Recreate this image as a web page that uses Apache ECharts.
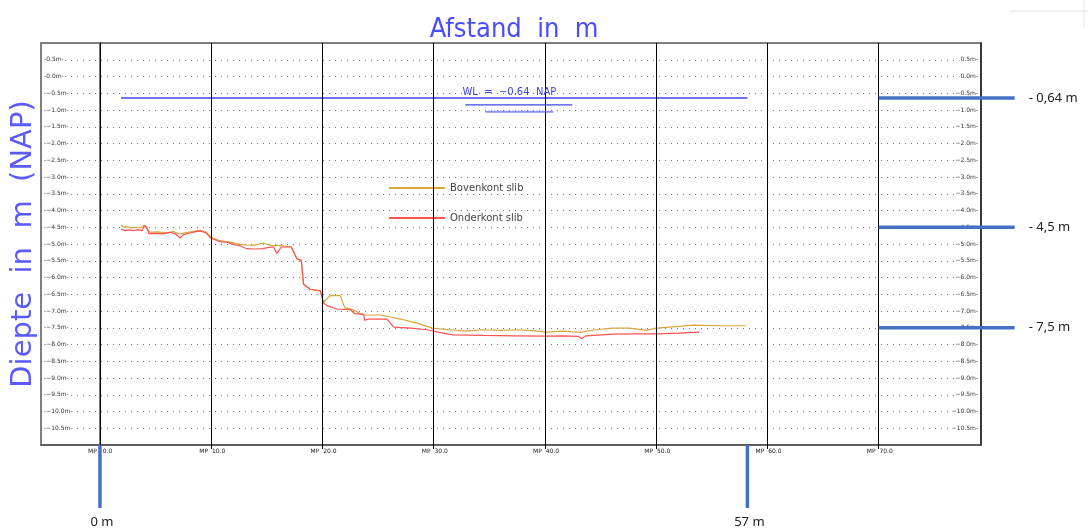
<!DOCTYPE html>
<html><head><meta charset="utf-8">
<script src="https://cdn.jsdelivr.net/npm/echarts@6/dist/echarts.min.js"></script>
<style>html,body{margin:0;padding:0;background:#fff}#c{width:1088px;height:529px}</style>
</head><body><div id="c"></div>
<script>
// ---- data ----
const bovenX = [1.9,2.1,2.4,2.8,3.3,3.7,3.9,4.1,4.5,5.2,6.0,6.6,7.2,7.8,8.4,9.0,9.5,10.0,10.6,11.1,11.8,12.6,13.2,13.8,14.3,14.7,15.2,15.6,16.2,16.5,17.2,17.7,18.1,18.3,18.9,19.8,20.1,20.7,21.6,22.0,22.7,23.7,25.2,26.1,27.0,28.5,29.9,31.4,32.9,34.4,36.0,37.4,38.6,40.1,41.6,43.1,44.6,46.1,47.6,49.1,50.0,52.1,53.3,56.0,58.1];
const bovenY = [-4.42,-4.50,-4.48,-4.52,-4.50,-4.52,-4.45,-4.50,-4.65,-4.64,-4.67,-4.63,-4.70,-4.66,-4.62,-4.59,-4.64,-4.80,-4.88,-4.91,-4.95,-5.01,-5.03,-5.04,-5.00,-4.97,-5.03,-5.05,-5.04,-5.06,-5.09,-5.44,-5.49,-6.20,-6.35,-6.40,-6.74,-6.54,-6.54,-6.90,-6.96,-7.12,-7.12,-7.18,-7.24,-7.36,-7.51,-7.56,-7.60,-7.56,-7.58,-7.56,-7.58,-7.63,-7.60,-7.64,-7.56,-7.51,-7.51,-7.58,-7.51,-7.46,-7.42,-7.44,-7.44];
const onderX = [1.9,2.2,2.6,3.0,3.4,3.8,4.0,4.2,4.4,5.0,5.7,6.3,6.8,7.2,7.5,8.0,8.5,9.0,9.5,10.0,10.8,11.5,12.0,12.6,13.2,14.0,14.6,15.2,15.6,15.9,16.3,17.2,17.7,18.1,18.3,18.9,19.8,20.1,20.4,21.3,22.5,22.9,23.7,23.8,24.1,25.8,26.4,27.9,29.4,30.5,31.7,34.4,37.4,40.1,41.6,43.0,43.3,43.7,46.1,48.0,50.0,52.0,53.9];
const onderY = [-4.55,-4.60,-4.58,-4.60,-4.57,-4.60,-4.45,-4.50,-4.69,-4.68,-4.70,-4.65,-4.70,-4.82,-4.72,-4.68,-4.64,-4.61,-4.66,-4.83,-4.93,-4.95,-5.02,-5.05,-5.14,-5.15,-5.14,-5.10,-5.09,-5.28,-5.09,-5.09,-5.44,-5.49,-6.20,-6.35,-6.40,-6.76,-6.84,-6.94,-6.96,-7.08,-7.10,-7.28,-7.24,-7.24,-7.48,-7.51,-7.56,-7.64,-7.71,-7.73,-7.74,-7.75,-7.74,-7.76,-7.82,-7.74,-7.69,-7.68,-7.68,-7.66,-7.63];
const gridX = [0,10,20,30,40,50,60,70];
const wlX = [1.9, 58.2];
const wlLevel = -0.64;
const wlText = 'WL  =  −0.64  NAP';
const wlTextX = 36.8;
const rightMarks = [-0.64, -4.5, -7.5];
const rightLabels = ['- 0,64 m', '- 4,5 m', '- 7,5 m'];
const bottomMarks = [0, 58.2];
const bottomLabels = ['0 m', '57 m'];
const seriesNames = ['Bovenkont slib', 'Onderkont slib'];
const yName = 'Diepte  in  m  (NAP)';

// ---- chart ----
const zip = (xs, ys) => xs.map((x, i) => [x, ys[i]]);
const chart = echarts.init(document.getElementById('c'));
const isEdge = v => Math.abs(v - 1) < 1e-6 || Math.abs(v + 11) < 1e-6;
const num = v => (v < -1e-9 ? '−' : '') + Math.abs(v).toFixed(1);
const lblStyle = {fontSize: 6, color: '#333', fontFamily: 'DejaVu Sans', backgroundColor: '#fff', padding: [0, 1]};
const thinFont = 'DejaVu Sans Condensed, Liberation Sans Narrow, DejaVu Sans';

chart.setOption({
  animation: false,
  grid: {left: 41, top: 43, right: 107, bottom: 84, show: true, borderColor: '#555', borderWidth: 1.5,
    containLabel: false, outerBoundsMode: 'none'},
  title: {text: 'Afstand  in  m', left: 509, top: 11, textAlign: 'center',
    textStyle: {color: '#4a4aff', fontSize: 27, fontWeight: 'normal', fontFamily: thinFont}},
  legend: {data: seriesNames, orient: 'vertical', left: 384, top: 178, itemWidth: 56, itemHeight: 2, icon: 'rect', itemGap: 20,
    textStyle: {fontSize: 10, color: '#444', fontFamily: 'DejaVu Sans'}},
  xAxis: {type: 'value', min: -5.3, max: 79.2,
    axisLine: {show: true, onZero: false, lineStyle: {color: '#555', width: 1.5}},
    axisTick: {show: true, customValues: gridX, length: 4, lineStyle: {color: '#000'}},
    splitLine: {show: false},
    axisLabel: {customValues: gridX, margin: 3, fontSize: 6, color: '#222', fontFamily: 'DejaVu Sans',
      formatter: v => '{a|MP}{b|' + v.toFixed(1) + '}',
      rich: {a: {width: 13, align: 'right', padding: [0, 2, 0, 0], fontSize: 6}, b: {width: 13, align: 'left', fontSize: 6}}}},
  yAxis: [
    {type: 'value', min: -11, max: 1, interval: 0.5,
      axisLine: {show: true, lineStyle: {color: '#555', width: 1.5}}, axisTick: {show: false},
      splitLine: {show: true, lineStyle: {color: '#777', type: [1, 5], width: 1}},
      axisLabel: Object.assign({inside: true, margin: 2, formatter: v => isEdge(v) ? '' : '-' + num(v) + 'm-'}, lblStyle)},
    {type: 'value', min: -11, max: 1, interval: 0.5, position: 'right',
      axisLine: {show: true, lineStyle: {color: '#222', width: 1.5}}, axisTick: {show: false}, splitLine: {show: false},
      axisLabel: Object.assign({inside: true, margin: 2, formatter: v => isEdge(v) ? '' : num(v) + 'm-'}, lblStyle)}
  ],
  series: [
    {name: 'WL', type: 'line', data: zip(wlX, wlX.map(() => wlLevel)), showSymbol: false, silent: true,
      lineStyle: {color: '#3c46e6', width: 1.5},
      markLine: {silent: true, symbol: 'none', label: {show: false}, lineStyle: {color: '#000', width: 1, type: 'solid'},
        data: gridX.map(x => ({xAxis: x}))}},
    {name: seriesNames[0], type: 'line', data: zip(bovenX, bovenY), showSymbol: false, color: '#d9a63c',
      lineStyle: {color: '#d9a63c', width: 1.2}},
    {name: seriesNames[1], type: 'line', data: zip(onderX, onderY), showSymbol: false, color: '#ff5252',
      lineStyle: {color: '#ff5252', width: 1.2}}
  ]
});

const px = (x, y) => chart.convertToPixel({xAxisIndex: 0, yAxisIndex: 0}, [x, y]);
const g = [];
const yMid = px(0, -5)[1];
g.push({type: 'text', x: 23, y: yMid, rotation: Math.PI / 2,
  style: {text: yName, fill: '#5a5aff', fontSize: 29, fontFamily: 'DejaVu Sans', align: 'center', verticalAlign: 'middle'}});
const wlp = px(wlTextX, wlLevel);
g.push({type: 'text', z: 100, x: wlp[0], y: wlp[1] - 6, style: {text: wlText, fill: '#3c46e6', fontSize: 10, fontFamily: 'DejaVu Sans', align: 'center', verticalAlign: 'middle'}});
g.push({type: 'line', z: 100, shape: {x1: wlp[0] - 44, y1: wlp[1] + 7, x2: wlp[0] + 63, y2: wlp[1] + 7}, style: {stroke: '#3c46e6', lineWidth: 1.3}});
g.push({type: 'line', z: 100, shape: {x1: wlp[0] - 24, y1: wlp[1] + 14, x2: wlp[0] + 44, y2: wlp[1] + 14}, style: {stroke: '#3c46e6', lineWidth: 1}});
g.push({type: 'line', z: 100, shape: {x1: wlp[0] - 24, y1: wlp[1] + 13, x2: wlp[0] + 44, y2: wlp[1] + 13}, style: {stroke: '#7a80f0', lineWidth: 1, lineDash: [1, 2]}});
rightMarks.forEach((v, i) => {
  const p = px(gridX[gridX.length - 1], v);
  g.push({type: 'line', z: 100, shape: {x1: p[0], y1: p[1], x2: p[0] + 136, y2: p[1]}, style: {stroke: '#4472C4', lineWidth: 3.5}});
  g.push({type: 'text', z: 100, x: p[0] + 150, y: p[1], style: {text: rightLabels[i], fill: '#222', fontSize: 13, fontFamily: 'Noto Sans', verticalAlign: 'middle'}});
});
bottomMarks.forEach((v, i) => {
  const p = px(v, -11);
  g.push({type: 'line', z: 100, shape: {x1: p[0], y1: p[1], x2: p[0], y2: p[1] + 63}, style: {stroke: '#4472C4', lineWidth: 3.5}});
  g.push({type: 'text', z: 100, x: p[0] + 2, y: p[1] + 77, style: {text: bottomLabels[i], fill: '#222', fontSize: 13, fontFamily: 'Noto Sans', align: 'center', verticalAlign: 'middle'}});
});
g.push({type: 'line', shape: {x1: 1010, y1: 11, x2: 1088, y2: 11}, style: {stroke: '#e4e4e4', lineWidth: 1}});
g.push({type: 'line', shape: {x1: 1084, y1: 0, x2: 1084, y2: 28}, style: {stroke: '#e4e4e4', lineWidth: 1}});
chart.setOption({graphic: g});
</script>
</body></html>
